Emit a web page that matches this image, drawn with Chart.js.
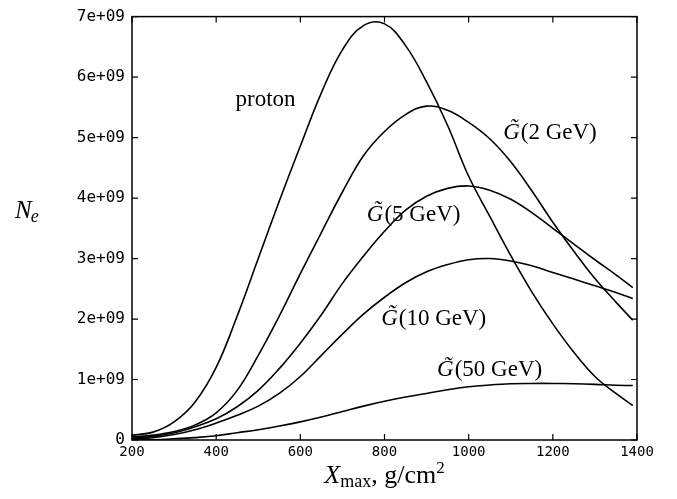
<!DOCTYPE html>
<html>
<head>
<meta charset="utf-8">
<script src="https://cdn.jsdelivr.net/npm/chart.js@4/dist/chart.umd.min.js"></script>
<style>
  html, body { margin: 0; padding: 0; background: #fff; }
  #wrap { width: 677px; height: 499px; }
</style>
</head>
<body>
<div id="wrap"><canvas id="showerChart"></canvas></div>
<script>
// Shower size N_e vs depth Xmax (g/cm^2) (units of 1e9)
const xmax = [200, 250, 300, 350, 400, 450, 500, 550, 600, 650, 700, 750, 800, 850, 900, 950, 1000, 1050, 1100, 1150, 1200, 1250, 1300, 1350, 1390];

const proton = [0.08, 0.13, 0.30, 0.63, 1.20, 2.05, 3.00, 3.95, 4.86, 5.74, 6.45, 6.85, 6.88, 6.52, 5.92, 5.20, 4.36, 3.70, 3.05, 2.45, 1.92, 1.45, 1.05, 0.77, 0.57];
const g2GeV  = [0.05, 0.08, 0.14, 0.25, 0.45, 0.82, 1.40, 2.05, 2.75, 3.43, 4.10, 4.70, 5.10, 5.38, 5.52, 5.45, 5.25, 4.98, 4.60, 4.12, 3.60, 3.12, 2.67, 2.28, 1.98];
const g5GeV  = [0.03, 0.06, 0.12, 0.22, 0.35, 0.55, 0.82, 1.18, 1.60, 2.07, 2.59, 3.04, 3.45, 3.80, 4.03, 4.16, 4.20, 4.13, 3.98, 3.76, 3.50, 3.24, 2.98, 2.73, 2.52];
const g10GeV = [0.02, 0.04, 0.09, 0.17, 0.28, 0.41, 0.56, 0.77, 1.05, 1.40, 1.75, 2.08, 2.36, 2.60, 2.78, 2.90, 2.98, 3.00, 2.96, 2.88, 2.77, 2.66, 2.55, 2.44, 2.34];
const g50GeV = [0.00, 0.005, 0.02, 0.04, 0.07, 0.12, 0.17, 0.23, 0.30, 0.38, 0.47, 0.56, 0.64, 0.71, 0.77, 0.83, 0.88, 0.91, 0.93, 0.935, 0.935, 0.93, 0.92, 0.905, 0.90];

const xTicks = [200, 400, 600, 800, 1000, 1200, 1400];
const yTicks = [0, 1e9, 2e9, 3e9, 4e9, 5e9, 6e9, 7e9];
const yTickLabels = ['0', '1e+09', '2e+09', '3e+09', '4e+09', '5e+09', '6e+09', '7e+09'];

// curve names and where their labels sit (data coordinates)
const curveNames = ['proton', '2 GeV', '5 GeV', '10 GeV', '50 GeV'];
const labelX = [446, 1082, 758, 792, 925];
const labelY = [5.62e9, 5.07e9, 3.72e9, 2.0e9, 1.15e9];

const seriesValues = [proton, g2GeV, g5GeV, g10GeV, g50GeV];

const datasets = seriesValues.map((vals, i) => ({
  label: curveNames[i],
  data: vals.map((v, j) => ({ x: xmax[j], y: v * 1e9 })),
  borderColor: '#000',
  borderWidth: 1.6,
  pointRadius: 0,
  fill: false,
  tension: 0.4
}));

const SERIF = '"Liberation Serif", "DejaVu Serif", serif';
const MONO = '"DejaVu Sans Mono", "Liberation Mono", monospace';

// frame with inward ticks on all four sides
const framePlugin = {
  id: 'frame',
  afterDraw(chart) {
    const { ctx, chartArea: a, scales } = chart;
    ctx.save();
    ctx.strokeStyle = '#000';
    ctx.lineWidth = 1.5;
    ctx.strokeRect(a.left, a.top, a.right - a.left, a.bottom - a.top);
    ctx.lineWidth = 1.2;
    ctx.beginPath();
    xTicks.forEach(v => {
      const px = scales.x.getPixelForValue(v);
      ctx.moveTo(px, a.bottom); ctx.lineTo(px, a.bottom - 6);
      ctx.moveTo(px, a.top); ctx.lineTo(px, a.top + 6);
    });
    yTicks.forEach(v => {
      const py = scales.y.getPixelForValue(v);
      ctx.moveTo(a.left, py); ctx.lineTo(a.left + 6, py);
      ctx.moveTo(a.right, py); ctx.lineTo(a.right - 6, py);
    });
    ctx.stroke();
    ctx.restore();
  }
};

// curve labels and axis titles
const notesPlugin = {
  id: 'notes',
  afterDraw(chart) {
    const { ctx, chartArea: a, scales } = chart;
    ctx.save();
    ctx.fillStyle = '#000';
    ctx.textBaseline = 'middle';
    ctx.textAlign = 'left';
    curveNames.forEach((name, i) => {
      let px = scales.x.getPixelForValue(labelX[i]);
      const py = scales.y.getPixelForValue(labelY[i]);
      if (i === 0) {
        ctx.font = '23px ' + SERIF;
        ctx.fillText(name, px, py);
        return;
      }
      ctx.font = 'italic 23px ' + SERIF;
      ctx.fillText('G\u0303', px, py);
      px += ctx.measureText('G').width + 1;
      ctx.font = '23px ' + SERIF;
      ctx.fillText('(' + name + ')', px, py);
    });

    // y title: N_e
    ctx.textBaseline = 'alphabetic';
    ctx.font = 'italic 25px ' + SERIF;
    ctx.fillText('N', 15, 218);
    const nW = ctx.measureText('N').width;
    ctx.font = 'italic 18px ' + SERIF;
    ctx.fillText('e', 15 + nW - 1, 222);

    // x title: X_max, g/cm^2
    const parts = [
      { t: 'X', f: 'italic 26px ' + SERIF, dy: 0 },
      { t: 'max', f: '18px ' + SERIF, dy: 4 },
      { t: ', g/cm', f: '26px ' + SERIF, dy: 0 },
      { t: '2', f: '17px ' + SERIF, dy: -10 }
    ];
    let total = 0;
    parts.forEach(p => { ctx.font = p.f; p.w = ctx.measureText(p.t).width; total += p.w; });
    let x = (a.left + a.right) / 2 - total / 2;
    parts.forEach(p => {
      ctx.font = p.f;
      ctx.fillText(p.t, x, 483 + p.dy);
      x += p.w;
    });
    ctx.restore();
  }
};

const chart = new Chart(document.getElementById('showerChart'), {
  type: 'line',
  data: { datasets },
  options: {
    responsive: true,
    maintainAspectRatio: false,
    animation: false,
    events: [],
    layout: { padding: { top: 13, right: 40, left: 0, bottom: 0 } },
    plugins: {
      legend: { display: false },
      tooltip: { enabled: false }
    },
    scales: {
      x: {
        type: 'linear',
        min: 200,
        max: 1400,
        afterBuildTicks: s => { s.ticks = xTicks.map(v => ({ value: v })); },
        afterFit: s => { s.height = 59; },
        grid: { display: false, drawTicks: false },
        border: { display: false },
        ticks: {
          color: '#000',
          padding: 4,
          maxRotation: 0,
          font: { family: MONO, size: 14 },
          callback: v => String(v)
        }
      },
      y: {
        type: 'linear',
        min: 0,
        max: 7e9,
        afterBuildTicks: s => { s.ticks = yTicks.map(v => ({ value: v })); },
        afterFit: s => { s.width = 132; },
        grid: { display: false, drawTicks: false },
        border: { display: false },
        ticks: {
          color: '#000',
          padding: 7,
          font: { family: MONO, size: 16 },
          callback: v => yTickLabels[yTicks.indexOf(v)]
        }
      }
    }
  },
  plugins: [framePlugin, notesPlugin]
});
</script>
</body>
</html>
